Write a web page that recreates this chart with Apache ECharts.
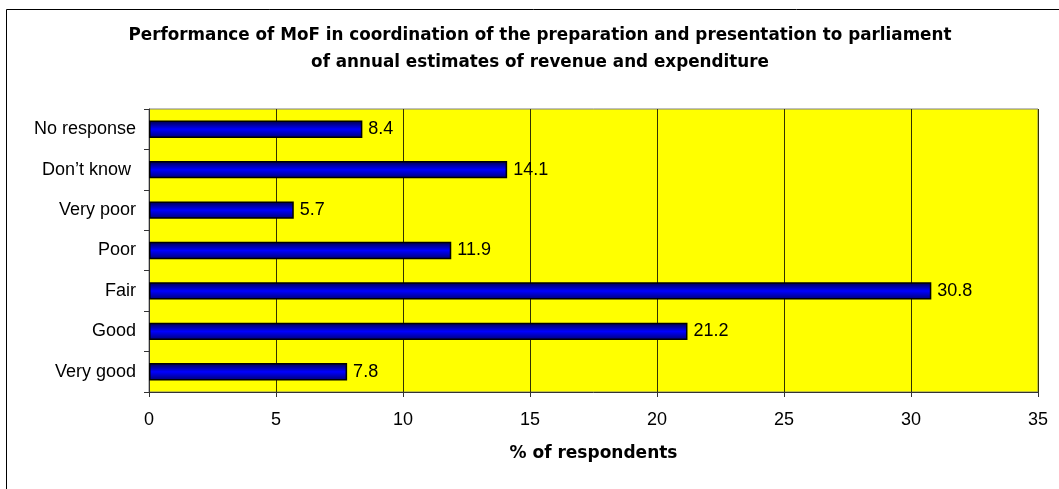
<!DOCTYPE html>
<html>
<head>
<meta charset="utf-8">
<script src="https://cdn.jsdelivr.net/npm/echarts@6/dist/echarts.min.js"></script>
<style>html,body{margin:0;padding:0;background:#fff;}#c{width:1059px;height:489px;}</style>
</head>
<body>
<div id="c"></div>
<script>
const categories = ["Very good", "Good", "Fair", "Poor", "Very poor", "Don\u2019t know ", "No response"];
const values = [7.8, 21.2, 30.8, 11.9, 5.7, 14.1, 8.4];
const xTicks = [0, 5, 10, 15, 20, 25, 30, 35];
const titleLines = ["Performance of MoF in coordination of the preparation and presentation to parliament", "of annual estimates of revenue and expenditure"];
const xAxisTitle = "% of respondents";

const chart = echarts.init(document.getElementById('c'), null, {renderer: 'canvas'});
const font = 'Liberation Sans, Arial, sans-serif';
chart.setOption({
  animation: false,
  backgroundColor: '#ffffff',
  graphic: [
    {type: 'rect', shape: {x: 6.5, y: 9.5, width: 1070, height: 500}, style: {fill: 'none', stroke: '#000', lineWidth: 1}, z: 100},
    {type: 'text', x: 540, y: 36, style: {text: titleLines[0], font: 'bold 16.8px DejaVu Sans', fill: '#000', textAlign: 'center', textVerticalAlign: 'middle'}, z: 100},
    {type: 'text', x: 540, y: 63, style: {text: titleLines[1], font: 'bold 16.8px DejaVu Sans', fill: '#000', textAlign: 'center', textVerticalAlign: 'middle'}, z: 100},
    {type: 'text', x: 593.5, y: 454, style: {text: xAxisTitle, font: 'bold 17px DejaVu Sans', fill: '#000', textAlign: 'center', textVerticalAlign: 'middle'}, z: 100}
  ],
  grid: {left: 149, right: 21, top: 109, bottom: 97, show: true, backgroundColor: '#ffff00', borderColor: '#808080', borderWidth: 1},
  xAxis: {
    type: 'value', min: 0, max: 35, interval: 5,
    axisLine: {show: true, lineStyle: {color: '#333', width: 1}},
    axisTick: {show: true, length: 5, lineStyle: {color: '#333'}},
    splitLine: {show: true, lineStyle: {color: '#333300', width: 1}},
    axisLabel: {color: '#000', fontSize: 18, fontFamily: font, margin: 19}
  },
  yAxis: {
    type: 'category', data: categories,
    axisLine: {show: true, lineStyle: {color: '#333', width: 1}},
    axisTick: {show: true, length: 5, lineStyle: {color: '#333'}},
    splitLine: {show: false},
    axisLabel: {color: '#000', fontSize: 18, fontFamily: font, margin: 13}
  },
  series: [{
    type: 'bar', data: values, barWidth: '43%',
    itemStyle: {
      borderColor: '#000', borderWidth: 1.5,
      color: new echarts.graphic.LinearGradient(0, 0, 0, 1, [
        {offset: 0, color: '#000040'},
        {offset: 0.5, color: '#0000ff'},
        {offset: 1, color: '#000070'}
      ])
    },
    label: {show: true, position: 'right', distance: 6, color: '#000', fontSize: 18, fontFamily: font, formatter: p => p.value.toFixed(1)}
  }]
});
</script>
</body>
</html>
